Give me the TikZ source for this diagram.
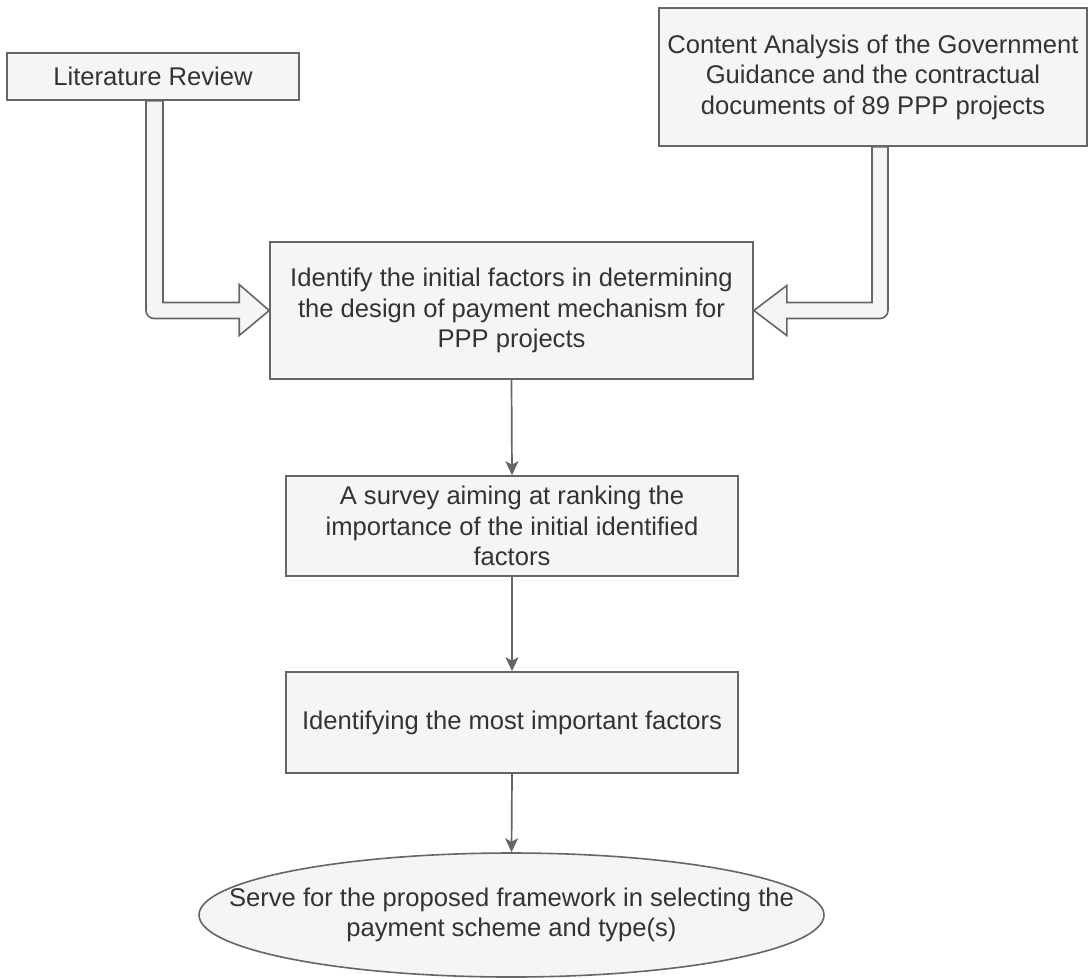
\documentclass[tikz,border=0pt]{standalone}
\usepackage{fontspec}
\setmainfont{Liberation Sans}
\usetikzlibrary{calc,shapes.geometric,arrows.meta}
\definecolor{boxfill}{HTML}{F5F5F5}
\definecolor{boxline}{HTML}{666666}
\definecolor{txt}{HTML}{333333}
\begin{document}
\begin{tikzpicture}[x=1pt,y=-1pt,
  box/.style={draw=boxline, fill=boxfill, line width=1.6pt, text=txt,
    font=\fontsize{25.6}{30.5}\selectfont, align=center, inner sep=0pt},
  flow/.style={draw=boxline, line width=1.7pt, -{Stealth[length=14pt,width=13pt,inset=3.5pt]}},
  fat/.style={draw=boxline, fill=boxfill, line width=1.6pt, line join=miter}]
\useasboundingbox (0,0) rectangle (1091,978);

\node[box, minimum width=292pt, minimum height=47pt] (lit) at (153,76.5) {Literature Review};
\node[box, minimum width=428pt, minimum height=138pt] (content) at (873,77)
  {Content Analysis of the Government\\Guidance and the contractual\\documents of 89 PPP projects};
\node[box, minimum width=483pt, minimum height=137pt] (ident) at (511.5,310.5)
  {Identify the initial factors in determining\\the design of payment mechanism for\\PPP projects};
\node[box, minimum width=452pt, minimum height=100pt] (survey) at (512,526)
  {A survey aiming at ranking the\\importance of the initial identified\\factors};
\node[box, minimum width=452pt, minimum height=101pt] (most) at (512,722.5)
  {Identifying the most important factors};
\node[box, ellipse, inner xsep=-80pt, inner ysep=0pt, minimum width=625pt, minimum height=124pt] (serve) at (511.5,915)
  {Serve for the proposed framework in selecting the\\payment scheme and type(s)};

% fat arrows
\draw[fat] let \p1=($(lit.south)+(1.5,0)$), \p2=(ident.west) in
  (\x1+8.5pt,\y1) -- (\x1+8.5pt,\y2+8pt) -- (\x2-30pt,\y2+8pt) -- (\x2-30pt,\y2+26pt)
  -- (\x2,\y2) -- (\x2-30pt,\y2-25pt) -- (\x2-30pt,\y2-8pt) -- (\x1-0.5pt,\y2-8pt)
  arc[start angle=270,end angle=180,radius=8pt] -- (\x1-8.5pt,\y1) -- cycle;
\draw[fat] let \p1=($(content.south)+(7,0)$), \p2=(ident.east) in
  (\x1-8pt,\y1) -- (\x1-8pt,\y2+8pt) -- (\x2+33pt,\y2+8pt) -- (\x2+33pt,\y2+25pt)
  -- (\x2,\y2) -- (\x2+33pt,\y2-25pt) -- (\x2+33pt,\y2-8pt) -- (\x1,\y2-8pt)
  arc[start angle=270,end angle=360,radius=8pt] -- (\x1+8pt,\y1) -- cycle;

% thin arrows
\draw[flow] (ident.south) -- (survey.north);
\draw[flow] (survey.south) -- (most.north);
\draw[flow] (most.south) -- (serve.north);
\end{tikzpicture}
\end{document}
